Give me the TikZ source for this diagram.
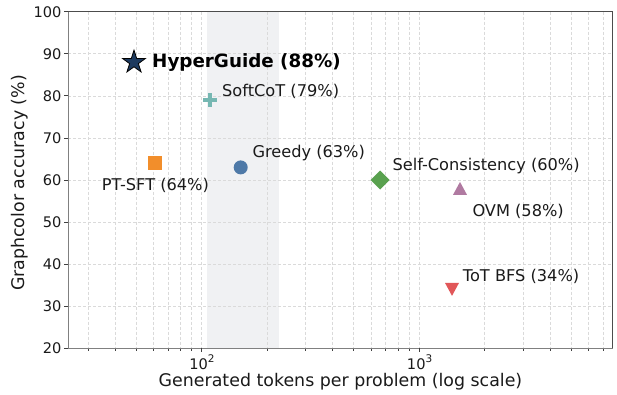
\documentclass[tikz,border=0pt]{standalone}
\usepackage{fontspec}
\setmainfont{DejaVu Sans}
\usetikzlibrary{shapes.geometric}
\definecolor{hgc}{HTML}{1D3A5F}
\definecolor{softc}{HTML}{76B7B2}
\definecolor{sftc}{HTML}{F28E2B}
\definecolor{greedyc}{HTML}{4E79A7}
\definecolor{scc}{HTML}{59A14F}
\definecolor{ovmc}{HTML}{B07AA1}
\definecolor{totc}{HTML}{E15759}
\definecolor{bandc}{HTML}{F0F1F3}
\definecolor{gridc}{HTML}{DADADA}
\definecolor{txtc}{HTML}{1A1A1A}
\begin{document}
\begin{tikzpicture}[x=1pt,y=-1pt,
  gridline/.style={draw=gridc,line width=0.6pt,dash pattern=on 3pt off 2pt},
  ticklab/.style={font=\fontsize{14.6}{14.6}\selectfont,text=txtc,inner sep=0pt},
  axlab/.style={font=\fontsize{17.4}{17.4}\selectfont,text=txtc,inner sep=0pt},
  annot/.style={font=\fontsize{16.2}{16.2}\selectfont,text=txtc,inner sep=0pt,anchor=west},
  mk/.style={inner sep=0pt,outer sep=0pt}]
\useasboundingbox (0,0) rectangle (617,394);
% shaded band
\fill[bandc] (206.7,11.7) rectangle (279.3,348.3);
% grid
\foreach \v in {30,40,...,90}{
  \pgfmathsetmacro{\yy}{348.3-4.2075*(\v-20)}
  \draw[gridline] (68.3,\yy) -- (612.7,\yy);
}
\foreach \v in {30,40,50,60,70,80,90,100,200,300,400,500,600,700,800,900,1000,2000,3000,4000,5000,6000,7000}{
  \pgfmathsetmacro{\xx}{201.7+217.6*(log10(\v)-2)}
  \draw[gridline] (\xx,11.7) -- (\xx,348.3);
}
% minor ticks
\foreach \v in {30,40,50,60,70,80,90,200,300,400,500,600,700,800,900,2000,3000,4000,5000,6000,7000}{
  \pgfmathsetmacro{\xx}{201.7+217.6*(log10(\v)-2)}
  \draw[black!75,line width=0.6pt] (\xx,348.3) -- (\xx,350.5);
}
% spines
\draw[black!70,line width=1pt] (68.3,11.7) -- (612.7,11.7) -- (612.7,348.3);
\draw[black!50,line width=1.6pt] (68.3,11.7) -- (68.3,348.3) -- (612.7,348.3);
% y ticks and labels
\foreach \v in {20,30,...,100}{
  \pgfmathsetmacro{\yy}{348.3-4.2075*(\v-20)}
  \draw[black!75,line width=0.8pt] (67.5,\yy) -- (64,\yy);
  \node[ticklab,anchor=east] (yt\v) at (61.7,\yy) {\v};
}
% x ticks and labels
\draw[black!75,line width=0.8pt] (201.7,348.3) -- (201.7,352);
\draw[black!75,line width=0.8pt] (419.3,348.3) -- (419.3,352);
\node[ticklab] (xt2) at (202,362) {10\raisebox{0.5em}{\fontsize{10.5}{10.5}\selectfont 2}};
\node[ticklab] (xt3) at (419.6,362) {10\raisebox{0.5em}{\fontsize{10.5}{10.5}\selectfont 3}};
% axis labels
\node[axlab] (xlab) at (340.5,382) {Generated tokens per problem (log scale)};
\node[axlab,rotate=90] (ylab) at (20,183) {Graphcolor accuracy (\%)};
% markers
\node[mk,star,star points=5,star point ratio=2.6,minimum size=24pt,fill=hgc,draw=black,line width=0.8pt] (hg) at (134,62.2) {};
\node[mk,minimum size=14pt] (sc) at (210,100) {};
\draw[softc,line width=4.6pt] (sc.north) -- (sc.south) (sc.west) -- (sc.east);
\node[mk,rectangle,minimum size=14pt,fill=sftc] (sft) at (155,163.2) {};
\node[mk,circle,minimum size=14pt,fill=greedyc] (gr) at (240.7,167.4) {};
\node[mk,diamond,minimum size=19pt,fill=scc] (scons) at (380,180) {};
\coordinate (ovm) at (460,188.4);
\fill[ovmc] ([shift={(0,-6.5)}]ovm) -- ([shift={(-7,6.5)}]ovm) -- ([shift={(7,6.5)}]ovm) -- cycle;
\coordinate (tot) at (452,289.4);
\fill[totc] ([shift={(0,6.5)}]tot) -- ([shift={(-7,-6.5)}]tot) -- ([shift={(7,-6.5)}]tot) -- cycle;
% annotations
\node[annot,font=\fontsize{18.3}{18.3}\selectfont\bfseries,text=black] (hgl) at (152,62.5) {HyperGuide (88\%)};
\node[annot] (scl) at (222,91.8) {SoftCoT (79\%)};
\node[annot] (grl) at (252.3,153.3) {Greedy (63\%)};
\node[annot] (sftl) at (101.7,185.8) {PT-SFT (64\%)};
\node[annot] (sconsl) at (392.3,165.8) {Self-Consistency (60\%)};
\node[annot] (ovml) at (472.3,211.3) {OVM (58\%)};
\node[annot] (totl) at (462.7,276.3) {ToT BFS (34\%)};
\end{tikzpicture}
\end{document}
